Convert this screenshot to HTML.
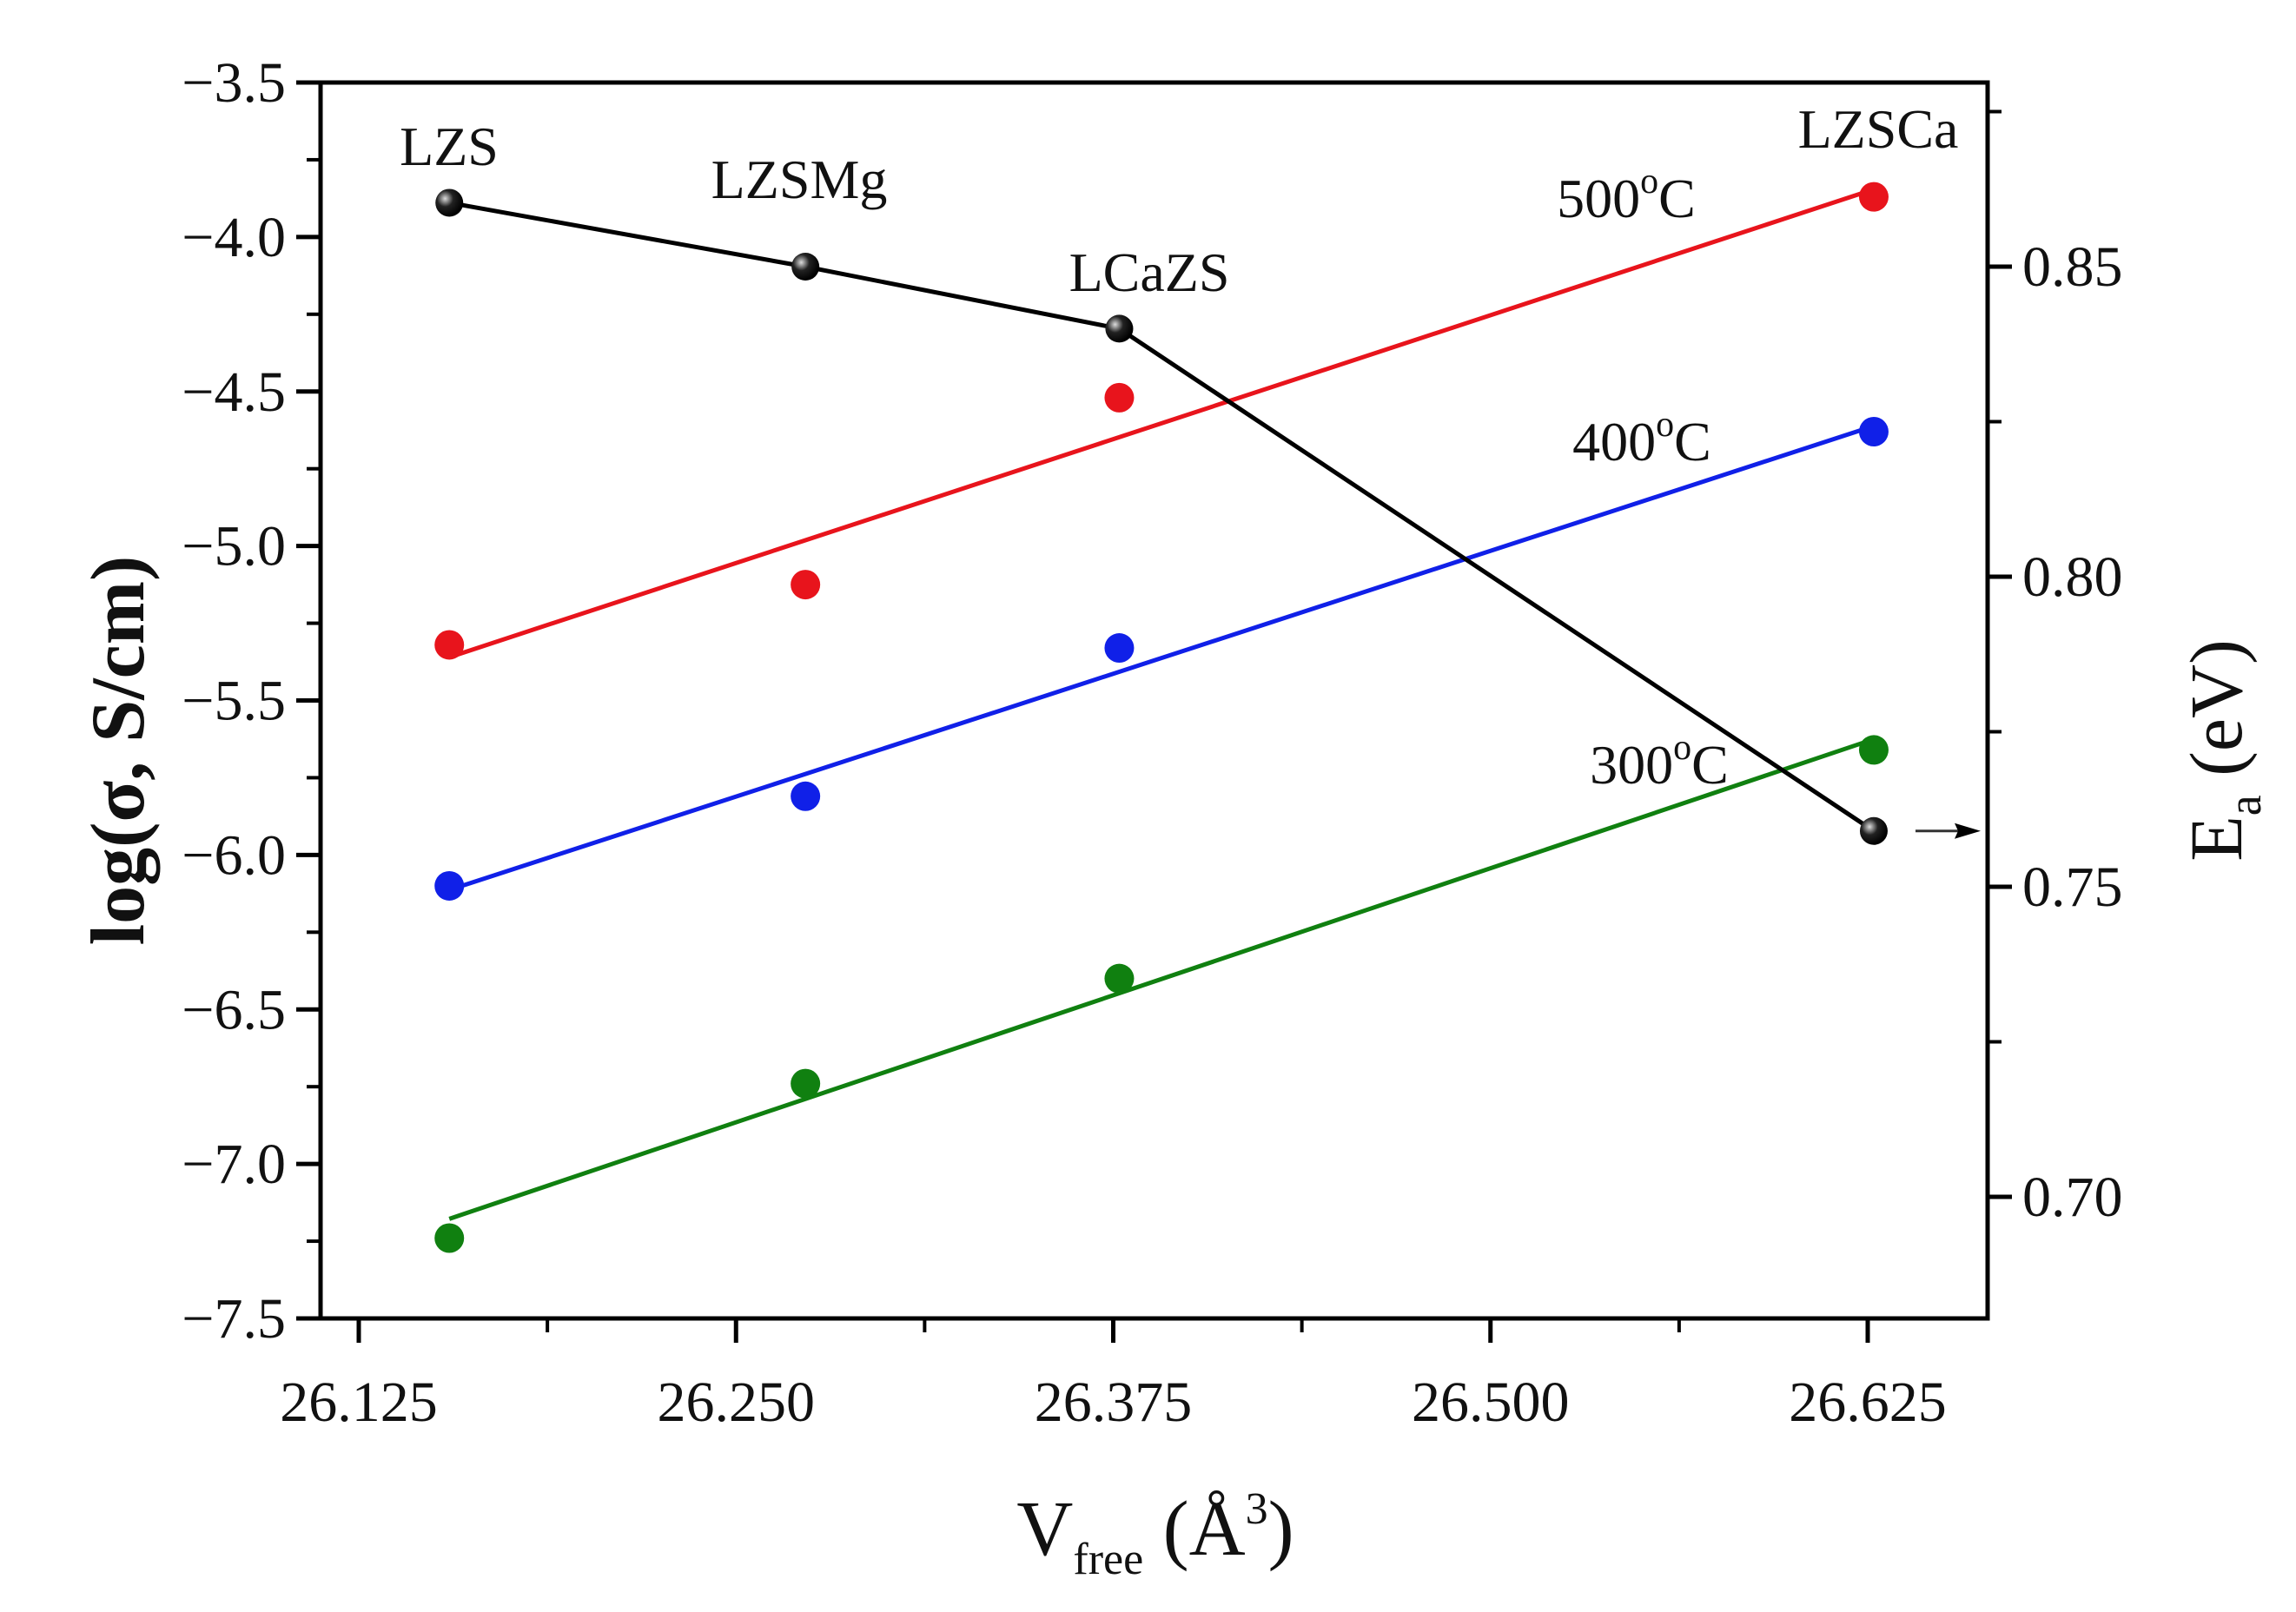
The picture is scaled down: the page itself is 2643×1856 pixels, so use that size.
<!DOCTYPE html>
<html><head><meta charset="utf-8"><style>
html,body{margin:0;padding:0;background:#fff;}
svg{display:block;font-family:"Liberation Serif",serif;}
</style></head><body>
<svg id="chart" width="2643" height="1856" viewBox="0 0 2643 1856" xmlns="http://www.w3.org/2000/svg">
<g id="plot"></g>
</svg>
<script>
const categories = ["LZS","LZSMg","LCaZS","LZSCa"];
const vfree = [26.155, 26.273, 26.377, 26.627];
const sigma500 = [-5.32, -5.125, -4.52, -3.87];
const sigma400 = [-6.10, -5.81, -5.33, -4.63];
const sigma300 = [-7.24, -6.74, -6.40, -5.66];
const ea = [0.8603, 0.850, 0.840, 0.759];
const xTicks = [26.125, 26.250, 26.375, 26.500, 26.625];
const xTickLabels = ["26.125","26.250","26.375","26.500","26.625"];
const yTicks = [-3.5,-4.0,-4.5,-5.0,-5.5,-6.0,-6.5,-7.0,-7.5];
const yTickLabels = ["\u22123.5","\u22124.0","\u22124.5","\u22125.0","\u22125.5","\u22126.0","\u22126.5","\u22127.0","\u22127.5"];
const y2Ticks = [0.70,0.75,0.80,0.85];
const y2TickLabels = ["0.70","0.75","0.80","0.85"];

const L=369, R=2288, T=95, B=1518;
const sx = v => 413 + (v-26.125)/0.5*1737;
const sy = v => T + (-3.5 - v)/4*(B-T);
const sy2 = v => 307 + (0.85 - v)/0.05*357;

const NS="http://www.w3.org/2000/svg";
const g=document.getElementById('plot');
function mk(tag, attrs, parent){const e=document.createElementNS(NS,tag);for(const k in attrs)e.setAttribute(k,attrs[k]);(parent||g).appendChild(e);return e;}

const defs=mk('defs',{});
const rg=mk('radialGradient',{id:'ball',cx:'0.35',cy:'0.35',r:'0.65'},defs);
mk('stop',{offset:'0','stop-color':'#ddd'},rg);
mk('stop',{offset:'0.45','stop-color':'#222'},rg);
mk('stop',{offset:'1','stop-color':'#000'},rg);

let f=mk('rect',{x:L,y:T,width:R-L,height:B-T,fill:'none',stroke:'#000','stroke-width':5});



xTicks.forEach((v,i)=>{
  const x=sx(v);
  let t=mk('line',{x1:x,y1:B,x2:x,y2:B+28,stroke:'#000','stroke-width':5});
  
  
  let tx=mk('text',{x:x,y:B+118,'font-size':66,'text-anchor':'middle',fill:'#111'});
  tx.textContent=xTickLabels[i];
  
  
  if(i<xTicks.length-1){
    const xm=sx(v+0.0625);
    let m=mk('line',{x1:xm,y1:B,x2:xm,y2:B+16,stroke:'#000','stroke-width':4});
    
    
  }
});
yTicks.forEach((v,i)=>{
  const y=sy(v);
  let t=mk('line',{x1:L-28,y1:y,x2:L,y2:y,stroke:'#000','stroke-width':5});
  
  
  let tx=mk('text',{x:L-40,y:y+22,'font-size':66,'text-anchor':'end',fill:'#111'});
  tx.textContent=yTickLabels[i];
  
  
  if(i<yTicks.length-1){
    const ym=sy(v-0.25);
    let m=mk('line',{x1:L-16,y1:ym,x2:L,y2:ym,stroke:'#000','stroke-width':4});
    
    
  }
});
y2Ticks.forEach((v,i)=>{
  const y=sy2(v);
  let t=mk('line',{x1:R,y1:y,x2:R+28,y2:y,stroke:'#000','stroke-width':5});
  
  
  let tx=mk('text',{x:R+40,y:y+22,'font-size':66,'text-anchor':'start',fill:'#111'});
  tx.textContent=y2TickLabels[i];
  
  
});
[0.675,0.725,0.775,0.825,0.875].forEach(v=>{
  const y=sy2(v);
  if(y<T||y>B) return;
  let m=mk('line',{x1:R,y1:y,x2:R+16,y2:y,stroke:'#000','stroke-width':4});
  
  
});

function fit(xs,ys){const n=xs.length;let mx=0,my=0;xs.forEach((x,i)=>{mx+=x;my+=ys[i];});mx/=n;my/=n;let a=0,b=0;xs.forEach((x,i)=>{a+=(x-mx)*(ys[i]-my);b+=(x-mx)*(x-mx);});const s=a/b;return x=>my+s*(x-mx);}
const series=[[sigma500,'#e8141c','500'],[sigma400,'#1020e8','400'],[sigma300,'#108010','300']];
series.forEach(([ys,col,nm])=>{
  const fn=fit(vfree,ys);
  const x0=vfree[0], x1=vfree[vfree.length-1];
  let ln=mk('line',{x1:sx(x0),y1:sy(fn(x0)),x2:sx(x1),y2:sy(fn(x1)),stroke:col,'stroke-width':5});
  
  
  ys.forEach((v,i)=>{
    let c=mk('circle',{cx:sx(vfree[i]),cy:sy(v),r:17,fill:col});
    
    
  });
});
let pts=vfree.map((x,i)=>sx(x)+','+sy2(ea[i])).join(' ');
let pl=mk('polyline',{points:pts,fill:'none',stroke:'#000','stroke-width':5});


ea.forEach((v,i)=>{
  let c=mk('circle',{cx:sx(vfree[i]),cy:sy2(v),r:16,fill:'url(#ball)'});
  
  
});
const ay=sy2(ea[3]);
let ar=mk('line',{x1:2205,y1:ay,x2:2262,y2:ay,stroke:'#333','stroke-width':3});


let ah=mk('polygon',{points:`2280,${ay} 2250,${ay-9} 2254,${ay} 2250,${ay+9}`,fill:'#000'});


</script>
<svg width="2643" height="1856" viewBox="0 0 2643 1856" style="position:absolute;left:0;top:0" xmlns="http://www.w3.org/2000/svg" font-family="Liberation Serif, serif">
<g font-size="64" fill="#111" text-anchor="middle">
<text x="517" y="190">LZS</text>
<text x="920" y="228">LZSMg</text>
<text x="1323" y="335">LCaZS</text>
<text x="2162" y="170">LZSCa</text>
<text x="1872" y="250">500<tspan font-size="42" dy="-28">o</tspan><tspan dy="28">C</tspan></text>
<text x="1890" y="530">400<tspan font-size="42" dy="-28">o</tspan><tspan dy="28">C</tspan></text>
<text x="1910" y="902">300<tspan font-size="42" dy="-28">o</tspan><tspan dy="28">C</tspan></text>
</g>
<text x="1330" y="1790" font-size="90" text-anchor="middle" fill="#111">V<tspan font-size="52" dy="22">free</tspan><tspan dy="-22"> (Å</tspan><tspan font-size="52" dy="-36">3</tspan><tspan dy="36">)</tspan></text>
<text transform="translate(165,864) rotate(-90)" font-size="88" font-weight="bold" text-anchor="middle" fill="#111">log(σ, S/cm)</text>
<text transform="translate(2580,864) rotate(-90)" font-size="86" text-anchor="middle" fill="#111">E<tspan font-size="54" dy="22">a</tspan><tspan dy="-22"> (eV)</tspan></text>
</svg>
</body></html>
